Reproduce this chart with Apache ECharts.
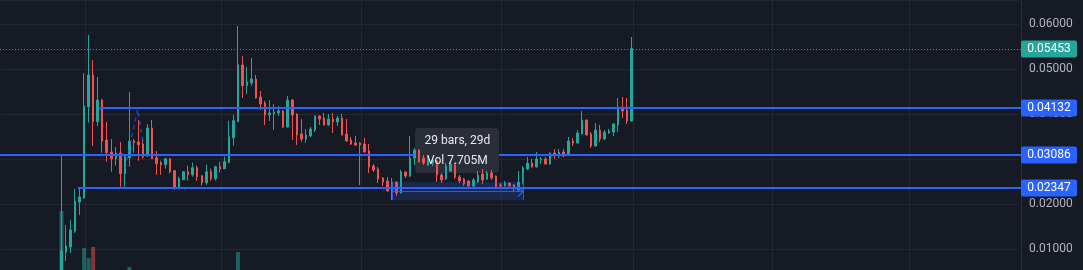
<!DOCTYPE html>
<html><head><meta charset="utf-8">
<script src="https://cdn.jsdelivr.net/npm/echarts@6/dist/echarts.min.js"></script>
<style>html,body{margin:0;padding:0;background:#161a25;}#c{width:1083px;height:270px;}</style>
</head><body><div id="c"></div>
<script>
// ---- data (daily bars) ----
const opens = [0.00300,0.00933,0.01044,0.01400,0.02044,0.02133,0.04162,0.04867,0.03829,0.04311,
0.03422,0.03156,0.03007,0.03133,0.02673,0.03029,0.03400,0.03378,0.03333,0.03073,
0.03689,0.03029,0.02918,0.02873,0.03007,0.02740,0.02340,0.02540,0.02718,0.02651,
0.02807,0.02629,0.02473,0.02718,0.02562,0.02829,0.02784,0.02918,0.03473,0.03829,
0.05089,0.04629,0.04689,0.04778,0.04378,0.04244,0.03978,0.04000,0.04022,0.04067,
0.03711,0.04311,0.04000,0.03556,0.03444,0.03511,0.03644,0.03956,0.03911,0.03756,
0.03889,0.03822,0.03911,0.03556,0.03422,0.03356,0.03356,0.03333,0.03178,0.02844,
0.02778,0.02578,0.02511,0.02289,0.02489,0.02244,0.02711,0.02622,0.03022,0.03200,
0.03022,0.02867,0.02911,0.02956,0.02644,0.02556,0.02733,0.02867,0.02600,0.02556,
0.02511,0.02400,0.02489,0.02667,0.02556,0.02689,0.02622,0.02422,0.02400,0.02467,
0.02422,0.02311,0.02467,0.02778,0.02911,0.02822,0.02978,0.03000,0.02889,0.03133,
0.03111,0.03156,0.03089,0.03400,0.03356,0.03556,0.03867,0.03556,0.03289,0.03644,
0.03444,0.03578,0.03600,0.03756,0.04156,0.04089,0.03844];
const closes = [0.00956,0.01067,0.01422,0.02067,0.02156,0.04178,0.04867,0.03829,0.04311,0.03400,
0.03140,0.03007,0.03133,0.02673,0.03051,0.03400,0.03362,0.03318,0.03051,0.03689,
0.03007,0.02896,0.02873,0.03007,0.02718,0.02340,0.02562,0.02718,0.02651,0.02807,
0.02607,0.02473,0.02718,0.02562,0.02829,0.02784,0.02940,0.03496,0.03851,0.05089,
0.04629,0.04711,0.04778,0.04356,0.04222,0.03978,0.04022,0.04044,0.04067,0.03711,
0.04311,0.03978,0.03533,0.03444,0.03533,0.03667,0.03956,0.03889,0.03756,0.03889,
0.03822,0.03911,0.03533,0.03400,0.03333,0.03311,0.03311,0.03156,0.02822,0.02756,
0.02556,0.02489,0.02289,0.02489,0.02244,0.02711,0.02622,0.03022,0.03200,0.02933,
0.02911,0.03022,0.02978,0.02644,0.02533,0.02844,0.02889,0.02600,0.02511,0.02444,
0.02400,0.02533,0.02644,0.02533,0.02689,0.02578,0.02378,0.02400,0.02467,0.02400,
0.02333,0.02489,0.02800,0.02911,0.02822,0.03000,0.03000,0.02889,0.03133,0.03089,
0.03156,0.03067,0.03400,0.03356,0.03578,0.03867,0.03533,0.03289,0.03644,0.03444,
0.03600,0.03622,0.03778,0.04156,0.04067,0.03844,0.05453];
const lows = [0.00250,0.00733,0.00911,0.01356,0.01756,0.02111,0.03807,0.03289,0.03733,0.03140,
0.02940,0.02718,0.02851,0.02384,0.02340,0.02829,0.03140,0.02962,0.03007,0.03051,
0.03000,0.02651,0.02651,0.02784,0.02682,0.02327,0.02333,0.02533,0.02518,0.02607,
0.02518,0.02407,0.02429,0.02518,0.02518,0.02696,0.02778,0.02911,0.03296,0.03822,
0.04356,0.04444,0.04629,0.04344,0.04089,0.03756,0.03844,0.03644,0.03956,0.03689,
0.03700,0.03422,0.03311,0.03378,0.03356,0.03489,0.03600,0.03756,0.03744,0.03744,
0.03578,0.03733,0.03522,0.03389,0.03311,0.03289,0.02422,0.03144,0.02689,0.02711,
0.02467,0.02400,0.02278,0.02089,0.02178,0.02233,0.02578,0.02600,0.02867,0.02922,
0.02867,0.02844,0.02844,0.02489,0.02467,0.02533,0.02711,0.02556,0.02467,0.02400,
0.02356,0.02378,0.02467,0.02444,0.02533,0.02533,0.02356,0.02333,0.02389,0.02389,
0.02289,0.02300,0.02456,0.02756,0.02811,0.02811,0.02889,0.02878,0.02878,0.03000,
0.03022,0.03044,0.03078,0.03289,0.03344,0.03544,0.03522,0.03244,0.03278,0.03378,
0.03422,0.03556,0.03511,0.03600,0.03911,0.03778,0.03833];
const highs = [0.03089,0.01533,0.01644,0.02333,0.02333,0.04911,0.05756,0.05200,0.04822,0.04333,
0.03822,0.03444,0.03267,0.03378,0.03111,0.04489,0.03444,0.03867,0.03444,0.03778,
0.03867,0.03178,0.02962,0.03029,0.03022,0.02756,0.02607,0.02733,0.02851,0.02918,
0.02851,0.02629,0.02873,0.02784,0.02851,0.02940,0.03051,0.03851,0.03984,0.05956,
0.05289,0.05044,0.05244,0.04867,0.04511,0.04289,0.04311,0.04222,0.04178,0.04089,
0.04400,0.04333,0.04011,0.03889,0.03667,0.03711,0.03967,0.03967,0.04022,0.04000,
0.04022,0.03956,0.04000,0.03889,0.03489,0.03511,0.03378,0.03467,0.03333,0.02889,
0.02822,0.02600,0.02600,0.02578,0.02500,0.02756,0.02722,0.03511,0.03244,0.03211,
0.03089,0.03089,0.03044,0.02978,0.02689,0.02911,0.02933,0.02911,0.02644,0.02578,
0.02533,0.02578,0.02733,0.02778,0.02733,0.02756,0.02633,0.02467,0.02511,0.02478,
0.02444,0.02733,0.02844,0.03044,0.03000,0.03156,0.03044,0.03044,0.03144,0.03222,
0.03222,0.03222,0.03489,0.03467,0.03644,0.04067,0.03878,0.03600,0.03800,0.03756,
0.03644,0.03667,0.03800,0.04356,0.04378,0.04356,0.05711];
const volumes = [59,0,0,0,0,22,12,23,0,0, 0,0,0,0,0,3,0,0,0,0,
0,0,0,0,0,0,0,0,0,0, 0,0,0,0,0,0,0,0,0,18,
0,0,0,0,0,0,0,0,0,0, 0,0,0,0,0,0,0,0,0,0,
0,0,0,0,0,0,0,0,0,0, 0,0,0,0,0,0,0,0,0,0,
0,0,0,0,0,0,0,0,0,0, 0,0,0,0,0,0,0,0,0,0,
0,0,0,0,0,0,0,0,0,0, 0,0,0,0,0,0,0,0,0,0,
0,0,0,0,0,0,0];
const priceTicks = [0.01,0.02,0.03,0.04,0.05,0.06];
const levelValues = [0.04132, 0.03086, 0.02347];
const levelStartBars = [8.4, null, 3.6];      // bar index where each horizontal ray starts
const monthBars = [5.2, 35.3, 66.2, 97.2, 126.4, 157.1, 187.3]; // month boundaries (bar units)
const rangeBars = [73, 102];                   // measured date range
const rangePrices = [0.02489, 0.02089];
const rangeTexts = ['29 bars, 29d', 'Vol 7.705M'];
const sketchBars = [14.03, 16.84, 18.08];
const sketchPrices = [0.02793, 0.04104, 0.03349];

// ---- layout ----
const firstSlot = 13, totalSlots = 225;
const UP = '#26a69a', DOWN = '#ef5350', BLUE = '#2962ff';
const FONT = 'Roboto, "Noto Sans", sans-serif';
const categories = [];
for (let i = 0; i < totalSlots; i++) categories.push('d' + i);

const candleData = opens.map((o, k) => [firstSlot + k, o, closes[k], lows[k], highs[k]]);
const volData = volumes.map((v, k) => ({
  value: [firstSlot + k, v],
  itemStyle: { color: closes[k] >= opens[k] ? 'rgba(38,166,154,0.5)' : 'rgba(239,83,80,0.5)' }
}));

const chart = echarts.init(document.getElementById('c'), null, { renderer: 'canvas' });
chart.setOption({
  backgroundColor: '#161a25',
  animation: false,
  grid: [
    { left: 0.4, width: 1018.1, top: 0, height: 294, containLabel: false, outerBoundsMode: 'none' },
    { left: 0.4, width: 1018.1, top: 170, height: 100, containLabel: false, outerBoundsMode: 'none' }
  ],
  xAxis: [
    { type: 'category', data: categories, gridIndex: 0, boundaryGap: true,
      axisLine: { show: false }, axisTick: { show: false }, axisLabel: { show: false }, splitLine: { show: false } },
    { type: 'category', data: categories, gridIndex: 1, boundaryGap: true, show: false }
  ],
  yAxis: [
    { type: 'value', gridIndex: 0, position: 'right', offset: 2.5, min: 0, max: 294 / 4500, interval: 0.01,
      axisLine: { show: true, lineStyle: { color: '#2a2e39' } }, axisTick: { show: false },
      axisLabel: { margin: 8, color: '#b2b5be', fontSize: 12, fontFamily: FONT,
        formatter: v => priceTicks.some(t => Math.abs(t - v) < 1e-9) ? v.toFixed(5) : '' },
      splitLine: { show: true, lineStyle: { color: '#232733', width: 1 } } },
    { type: 'value', gridIndex: 1, min: 0, max: 100, show: false, splitLine: { show: false } }
  ],
  series: [
    { type: 'bar', xAxisIndex: 1, yAxisIndex: 1, data: volData, barWidth: 4, z: 1, silent: true },
    { type: 'candlestick', xAxisIndex: 0, yAxisIndex: 0, data: candleData, encode: { x: 0, y: [1, 2, 3, 4] },
      barWidth: 2, z: 6, silent: true,
      itemStyle: { color: UP, color0: DOWN, borderColor: UP, borderColor0: DOWN, borderWidth: 1 } }
  ]
});

// ---- overlays positioned through the chart's own scales ----
const p0 = chart.convertToPixel({ gridIndex: 0 }, [0, 0]);
const p1 = chart.convertToPixel({ gridIndex: 0 }, [1, 0]);
const sw = p1[0] - p0[0];
const XS = s => p0[0] + s * sw;                 // slot -> px
const XB = b => XS(firstSlot + b);              // bar -> px
const Y = v => chart.convertToPixel({ gridIndex: 0 }, [0, v])[1];
const cr = v => Math.round(v) + 0.5;
const axisX = XS(totalSlots - 0.5) + 2.5;
const g = [];

monthBars.forEach(b => {
  const x = cr(XB(b));
  g.push({ type: 'line', z: 1, silent: true, shape: { x1: x, y1: 0, x2: x, y2: 270 }, style: { stroke: '#232733', lineWidth: 1 } });
});

// date range tool geometry
const rx1 = XB(rangeBars[0]), rx2 = XB(rangeBars[1]);
const ry1 = Y(rangePrices[0]), ry2 = Y(rangePrices[1]);
const rym = Math.round((ry1 + ry2) / 2) + 0.5;
const mx = (rx1 + rx2) / 2, bw = 84, bh = 45, btop = Math.round(ry1) - 9 - bh;
const bx1 = Math.round(mx - bw / 2), bx2 = bx1 + bw;

// sketch annotation
g.push({ type: 'polyline', z: 8, silent: true,
  shape: { points: sketchBars.map((b, i) => [XB(b), Y(sketchPrices[i])]) },
  style: { stroke: 'rgba(41,98,255,0.6)', lineWidth: 1.5, lineDash: [4, 4], fill: null } });

// last price dotted line
const last = closes[closes.length - 1];
const yl = cr(Y(last));
g.push({ type: 'line', z: 8, silent: true, shape: { x1: 0, y1: yl, x2: axisX, y2: yl }, style: { stroke: UP, lineWidth: 1, lineDash: [1, 2] } });

// horizontal rays (hidden where the range label sits)
levelValues.forEach((v, i) => {
  const y = Math.round(Y(v));
  const x1 = levelStartBars[i] == null ? 0 : XB(levelStartBars[i]);
  const segs = (y > btop && y < btop + bh && x1 < bx1) ? [[x1, bx1], [bx2, axisX]] : [[x1, axisX]];
  segs.forEach(s => g.push({ type: 'line', z: 8, silent: true, shape: { x1: s[0], y1: y, x2: s[1], y2: y }, style: { stroke: BLUE, lineWidth: 2 } }));
});

// date range tool
g.push({ type: 'rect', z: 7, silent: true, shape: { x: rx1, y: ry1, width: rx2 - rx1, height: ry2 - ry1 }, style: { fill: 'rgba(41,98,255,0.18)' } });
g.push({ type: 'line', z: 9, silent: true, shape: { x1: cr(rx1), y1: ry1, x2: cr(rx1), y2: ry2 }, style: { stroke: 'rgba(41,98,255,0.9)', lineWidth: 1 } });
g.push({ type: 'line', z: 9, silent: true, shape: { x1: cr(rx2), y1: ry1 - 10, x2: cr(rx2), y2: ry2 }, style: { stroke: 'rgba(41,98,255,0.9)', lineWidth: 1 } });
g.push({ type: 'line', z: 9, silent: true, shape: { x1: rx1, y1: rym, x2: rx2, y2: rym }, style: { stroke: 'rgba(41,98,255,0.9)', lineWidth: 1 } });
g.push({ type: 'polyline', z: 9, silent: true, shape: { points: [[rx2 - 5, rym - 5], [rx2, rym], [rx2 - 5, rym + 5]] }, style: { stroke: 'rgba(41,98,255,0.9)', lineWidth: 1.2, fill: null } });

// range label box (beneath the candles, as in the reference)
g.push({ type: 'rect', z: 5, silent: true, shape: { x: bx1, y: btop, width: bw, height: bh, r: 4 }, style: { fill: '#2a2e39' } });
rangeTexts.forEach((t, i) => {
  g.push({ type: 'text', z: 11, silent: true, style: { text: t, x: mx, y: btop + 12.5 + i * 20, fill: '#e9eaee', font: '12px ' + FONT, align: 'center', verticalAlign: 'middle' } });
});

// axis tags
function tag(v, color) {
  const y = Math.round(Y(v));
  g.push({ type: 'rect', z: 20, silent: true, shape: { x: axisX, y: y - 8.5, width: 56, height: 17, r: 2 }, style: { fill: color } });
  g.push({ type: 'text', z: 21, silent: true, style: { text: v.toFixed(5), x: axisX + 28, y: y, fill: '#ffffff', font: '12px ' + FONT, align: 'center', verticalAlign: 'middle' } });
}
tag(last, UP);
levelValues.forEach(v => tag(v, BLUE));

chart.setOption({ graphic: { elements: g } });
</script></body></html>
